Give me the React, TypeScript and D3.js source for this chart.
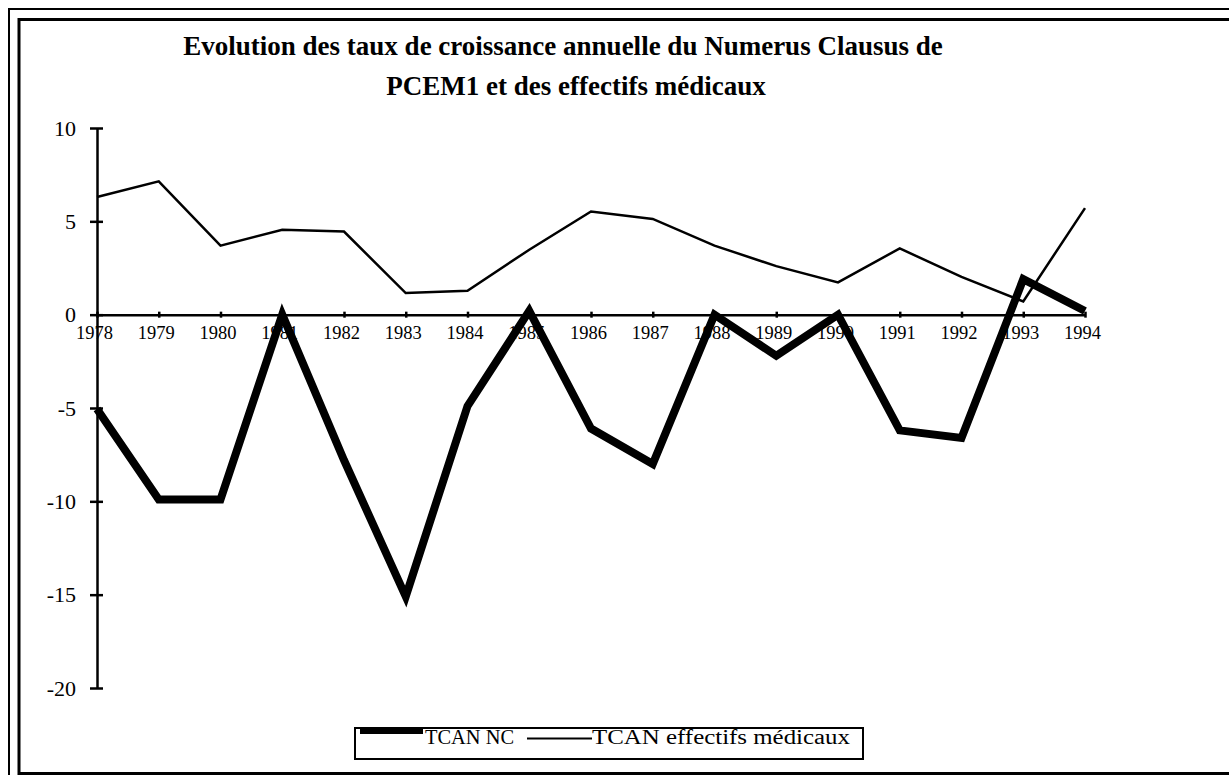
import React, { useRef, useEffect } from "react";
import * as d3 from "d3";

// years on the x axis
const years = [
  1978, 1979, 1980, 1981, 1982, 1983, 1984, 1985, 1986, 1987, 1988, 1989,
  1990, 1991, 1992, 1993, 1994,
];

// TCAN NC (thick line)
const tcanNC = [
  -5.05, -9.9, -9.9, 0.0, -7.8, -15.1, -4.9, 0.2, -6.1, -8.0, 0.0, -2.2, 0.0,
  -6.2, -6.6, 1.9, 0.2,
];

// TCAN effectifs médicaux (thin line)
const tcanEffectifs = [
  6.3, 7.14, 3.7, 4.55, 4.45, 1.16, 1.28, 3.48, 5.53, 5.13, 3.7, 2.6, 1.73,
  3.55, 2.02, 0.71, 5.71,
];

const yTicks = [10, 5, 0, -5, -10, -15, -20];

const titleLines = [
  "Evolution des taux de croissance annuelle du Numerus Clausus de",
  "PCEM1 et des effectifs médicaux",
];

const legendLabels = ["TCAN NC", "TCAN effectifs médicaux"];

const FONT = "'Times New Roman', 'Liberation Serif', serif";

const App = () => {
  const svgRef = useRef<SVGSVGElement>(null);

  useEffect(() => {
    if (!svgRef.current) return;
    const width = 1229;
    const height = 775;

    const svg = d3.select(svgRef.current);
    svg.selectAll("*").remove();
    svg.attr("width", width).attr("height", height);

    svg.append("rect").attr("width", width).attr("height", height).attr("fill", "white");

    // double frame (runs off the right / bottom edge like the scan)
    svg
      .append("rect")
      .attr("x", 9)
      .attr("y", 9)
      .attr("width", 1260)
      .attr("height", 800)
      .attr("fill", "none")
      .attr("stroke", "#000")
      .attr("stroke-width", 2);
    svg
      .append("rect")
      .attr("x", 19)
      .attr("y", 19.5)
      .attr("width", 1240)
      .attr("height", 754)
      .attr("fill", "none")
      .attr("stroke", "#000")
      .attr("stroke-width", 3);

    // title
    const titleX = [563, 576];
    const titleY = [55, 95];
    titleLines.forEach((t, i) => {
      svg
        .append("text")
        .attr("x", titleX[i])
        .attr("y", titleY[i])
        .attr("text-anchor", "middle")
        .style("font-family", FONT)
        .style("font-weight", "bold")
        .style("font-size", "27px")
        .text(t);
    });

    const xScale = d3.scaleLinear().domain([1978, 1994]).range([97, 1085]);
    const yScale = d3.scaleLinear().domain([10, -20]).range([128, 688]);

    // Y axis
    const yAxis = svg
      .append("g")
      .attr("transform", `translate(${xScale(1978)},0)`)
      .call(
        d3
          .axisLeft(yScale)
          .tickValues(yTicks)
          .tickFormat((d) => String(d))
          .tickSize(7)
          .tickSizeOuter(0)
          .tickPadding(14)
      );
    yAxis.select(".domain").attr("stroke-width", 2.5);
    yAxis.selectAll(".tick line").attr("x1", 6).attr("stroke-width", 2.5);
    yAxis
      .selectAll("text")
      .style("font-family", FONT)
      .style("font-size", "22px");

    // X axis at zero
    const xAxis = svg
      .append("g")
      .attr("transform", `translate(0,${yScale(0)})`)
      .call(
        d3
          .axisBottom(xScale)
          .tickValues(years)
          .tickFormat(d3.format("d"))
          .tickSize(3)
          .tickSizeOuter(0)
          .tickPadding(8)
      );
    xAxis.select(".domain").attr("stroke-width", 2.5);
    xAxis.selectAll(".tick line").attr("y1", -3).attr("stroke-width", 2.5);
    xAxis
      .selectAll("text")
      .attr("dx", -3)
      .style("font-family", FONT)
      .style("font-size", "18.5px");

    const line = d3
      .line<number>()
      .x((_, i) => xScale(years[i]))
      .y((d) => yScale(d));

    svg
      .append("path")
      .datum(tcanNC)
      .attr("d", line)
      .attr("fill", "none")
      .attr("stroke", "#000")
      .attr("stroke-width", 8);

    svg
      .append("path")
      .datum(tcanEffectifs)
      .attr("d", line)
      .attr("fill", "none")
      .attr("stroke", "#000")
      .attr("stroke-width", 2.5);

    // legend
    const legend = svg.append("g");
    legend
      .append("rect")
      .attr("x", 355)
      .attr("y", 728)
      .attr("width", 508)
      .attr("height", 31)
      .attr("fill", "white")
      .attr("stroke", "#000")
      .attr("stroke-width", 2);

    const items = [
      { x0: 360, x1: 423, tx: 425, w: 6, y: 731, len: 89 },
      { x0: 527, x1: 592, tx: 592, w: 2, y: 738.5, len: 258 },
    ];
    items.forEach((it, i) => {
      legend
        .append("line")
        .attr("x1", it.x0)
        .attr("x2", it.x1)
        .attr("y1", it.y)
        .attr("y2", it.y)
        .attr("stroke", "#000")
        .attr("stroke-width", it.w);
      legend
        .append("text")
        .attr("x", it.tx)
        .attr("y", 744)
        .attr("textLength", it.len)
        .attr("lengthAdjust", "spacingAndGlyphs")
        .style("font-family", FONT)
        .style("font-size", "20px")
        .text(legendLabels[i]);
    });
  }, []);

  return (
    <svg
      ref={svgRef}
      style={{ position: "absolute", left: 0, top: 0, display: "block" }}
    ></svg>
  );
};

export default App;
